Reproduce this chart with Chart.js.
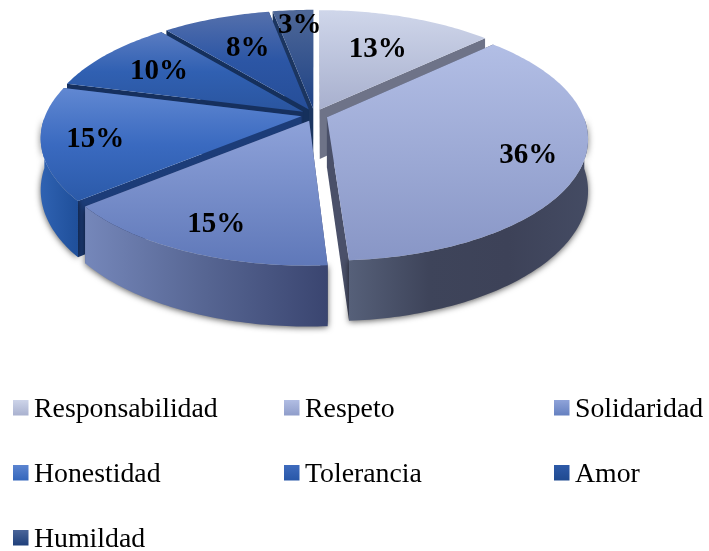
<!DOCTYPE html>
<html>
<head>
<meta charset="utf-8">
<style>html,body{margin:0;padding:0;background:#fff}canvas{display:block}</style>
<script src="https://cdn.jsdelivr.net/npm/chart.js@4"></script>
</head>
<body>
<canvas id="c" width="709" height="551"></canvas>
<script>
const categories = ['Responsabilidad','Respeto','Solidaridad','Honestidad','Tolerancia','Amor','Humildad'];
const percentages = [13,36,15,15,10,8,3];

const topColors = [
  ['#cfd6ea','#a8b0ce'],
  ['#b2bee5','#8896c6'],
  ['#8ea2d9','#5f78b9'],
  ['#6188d2','#3a6ac0','#2b5aa9'],
  ['#5a7cc2','#3060b2','#2a559f'],
  ['#5570ac','#2c56a5','#264e98'],
  ['#4f6898','#1e4285']
];
const wallColors = ['#6e7388','#4a5069','#3a4570','#1c3c78','#16305e','#15305c','#1b3560'];
const outerColors = [
  ['#8a90a8','#8a90a8'],
  ['#566079','#3e445a','#3d4258','#444b63'],
  ['#7587ba','#566592','#3a4570'],
  ['#2f62b2','#1f4f9a'],
  ['#1f4f9a','#1f4f9a'],
  ['#1f4f9a','#1f4f9a'],
  ['#1f4f9a','#1f4f9a']
];
const legendColors = [
  ['#cdd4e9','#a9b1cf'],['#b1bde3','#8f9dca'],['#8fa3d9','#6580c0'],
  ['#5b84d0','#3466bb'],['#3f6bbd','#2857a8'],['#2e5aa8','#1f4a90'],['#4a6599','#1f3f7a']
];
const labelRadii = [.69,.85,.86,.85,.77,.70,.89];
const labelTurnDeg = [0,0,-.7,0,0,.8,1.1];

// Perspective of the pie's ground plane
const view = {cx:314.5, cy:115, sx:256, sy:118, persp:.171, depth:50};
const project = (u,v,drop=0) => {
  const w = 1 - view.persp*v;
  return [view.cx + view.sx*u/w, view.cy + (view.sy*v + drop)/w];
};

function pathOf(ctx, pts){
  ctx.beginPath();
  pts.forEach((p,i)=> i ? ctx.lineTo(p[0],p[1]) : ctx.moveTo(p[0],p[1]));
  ctx.closePath();
}
function vGrad(ctx,cols,y0,y1){
  const g=ctx.createLinearGradient(0,y0,0,y1);
  cols.forEach((c,i)=>g.addColorStop(i/(cols.length-1),c));
  return g;
}
function hGrad(ctx,cols,x0,x1){
  const g=ctx.createLinearGradient(x0,0,x1,0);
  cols.forEach((c,i)=>g.addColorStop(i/(cols.length-1),c));
  return g;
}

const pie3d = {
  id:'pie3d',
  beforeDatasetsDraw(chart){
    const ctx = chart.ctx;
    const meta = chart.getDatasetMeta(0);
    const slices = meta.data.map((el,i)=>{
      const p = el.getProps(['startAngle','endAngle','outerRadius'],true);
      const mid = (p.startAngle+p.endAngle)/2;
      const e = el.options.offset/p.outerRadius;
      const ou = e*Math.cos(mid), ov = e*Math.sin(mid);
      const n = Math.max(4,Math.ceil((p.endAngle-p.startAngle)*60));
      const rim = [], front = [];
      for(let k=0;k<=n;k++){
        const a = p.startAngle+(p.endAngle-p.startAngle)*k/n;
        const q = [Math.cos(a)+ou, Math.sin(a)+ov];
        rim.push(q);
        if(Math.sin(a)>=0) front.push(q);
      }
      return {i,mid,ou,ov,rim,front};
    });
    const order = slices.slice().sort((a,b)=>Math.sin(a.mid)-Math.sin(b.mid));
    order.forEach(s=>{
      const top = s.rim.map(q=>project(q[0],q[1]));
      const bot = s.rim.map(q=>project(q[0],q[1],view.depth));
      const aT = project(s.ou,s.ov), aB = project(s.ou,s.ov,view.depth);
      const xs = top.map(p=>p[0]), ys = top.map(p=>p[1]).concat(aT[1]);
      // radial walls
      ctx.fillStyle = wallColors[s.i];
      pathOf(ctx,[aT,top[0],bot[0],aB]); ctx.fill();
      pathOf(ctx,[aT,top[top.length-1],bot[bot.length-1],aB]); ctx.fill();
      // outer wall with soft shadow (only the part that faces the viewer)
      if(s.front.length>1){
        const ft = s.front.map(q=>project(q[0],q[1]));
        const fb = s.front.map(q=>project(q[0],q[1],view.depth));
        ctx.save();
        ctx.shadowColor='rgba(0,0,0,.65)'; ctx.shadowBlur=6; ctx.shadowOffsetY=1;
        ctx.fillStyle = hGrad(ctx,outerColors[s.i],Math.min(...xs),Math.max(...xs));
        pathOf(ctx,ft.concat(fb.slice().reverse())); ctx.fill();
        ctx.restore();
      }
      // top face
      ctx.fillStyle = vGrad(ctx,topColors[s.i],Math.min(...ys),Math.max(...ys));
      pathOf(ctx,[aT].concat(top)); ctx.fill();
    });
    return false;
  },
  afterDraw(chart){
    const ctx = chart.ctx;
    const meta = chart.getDatasetMeta(0);
    // value labels
    ctx.save();
    ctx.fillStyle='#000';
    ctx.font='bold 29px "Liberation Serif"';
    ctx.textAlign='center'; ctx.textBaseline='middle';
    meta.data.forEach((el,i)=>{
      const p = el.getProps(['startAngle','endAngle'],true);
      const mid=(p.startAngle+p.endAngle)/2 + labelTurnDeg[i]*Math.PI/180;
      const q = project(labelRadii[i]*Math.cos(mid),labelRadii[i]*Math.sin(mid));
      ctx.fillText(percentages[i]+'%',q[0],q[1]+1.5);
    });
    // legend
    const colX=[13,284,554], rowY=[400,465,530], box=15.5;
    ctx.font='27.8px "Liberation Serif"';
    ctx.textAlign='left'; ctx.textBaseline='alphabetic';
    categories.forEach((name,i)=>{
      const x=colX[i%3], y=rowY[Math.floor(i/3)];
      ctx.fillStyle=vGrad(ctx,legendColors[i],y,y+box);
      ctx.fillRect(x,y,box,box);
      ctx.fillStyle='#000';
      ctx.fillText(name,x+21,y+17);
    });
    ctx.restore();
  }
};

new Chart(document.getElementById('c'),{
  type:'pie',
  data:{labels:categories,datasets:[{data:percentages,backgroundColor:topColors.map(c=>c[0]),borderWidth:0,offset:14}]},
  options:{
    responsive:false,animation:false,
    plugins:{legend:{display:false},tooltip:{enabled:false}}
  },
  plugins:[pie3d]
});
</script>
</body>
</html>
